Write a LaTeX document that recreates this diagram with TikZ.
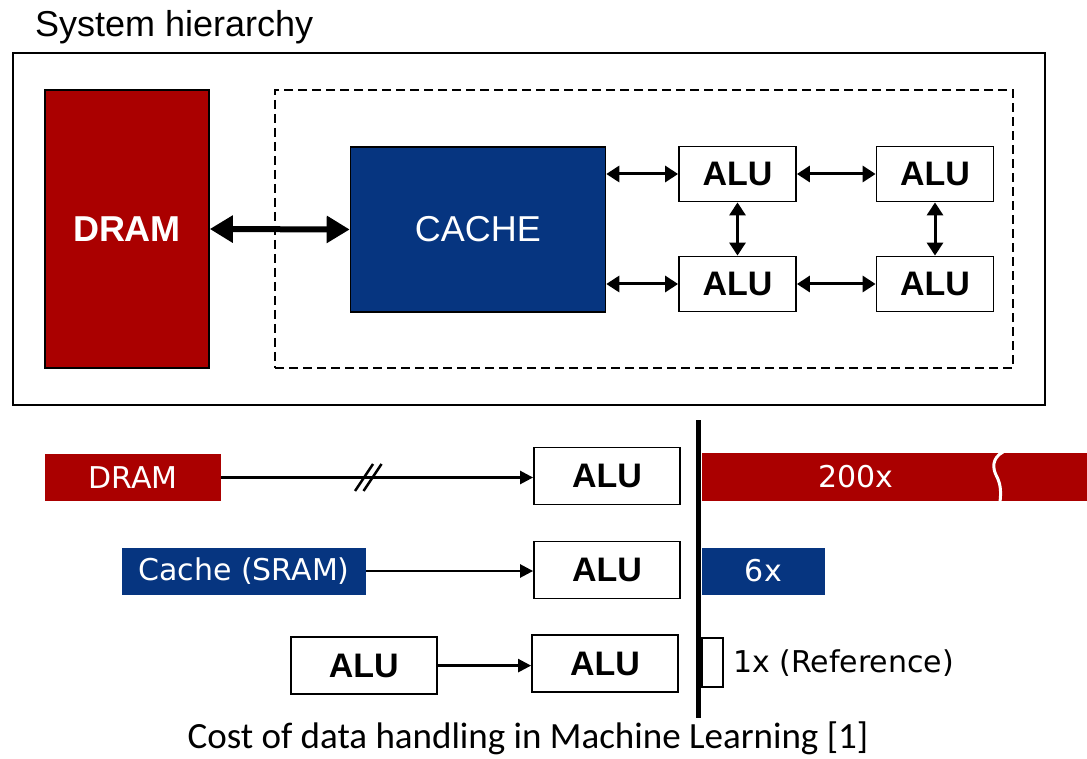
\documentclass[tikz,border=0pt]{standalone}
\usepackage{fontspec}
\setmainfont{Liberation Sans}
\newfontfamily\verd{DejaVu Sans}
\newfontfamily\cali{Carlito}
\usetikzlibrary{arrows.meta}
\definecolor{dred}{RGB}{170,0,0}
\definecolor{dblue}{RGB}{6,53,128}
\begin{document}
\begin{tikzpicture}[x=1pt,y=-1pt,
  lbl/.style={inner sep=0pt},
  alubox/.style={draw, line width=1.8pt, fill=white, inner sep=0pt, font=\fontsize{34}{34}\selectfont\bfseries},
  topbox/.style={draw, line width=1.6pt, inner sep=0pt},
  bar/.style={fill=#1, inner sep=0pt, text=white, font=\verd\fontsize{30}{30}\selectfont},
  dbl/.style={line width=3pt, {Triangle[length=13pt,width=16pt]}-{Triangle[length=13pt,width=16pt]}},
  big/.style={line width=6pt, {Triangle[length=23pt,width=26pt]}-{Triangle[length=23pt,width=26pt]}},
  one/.style={line width=2.5pt, -{Triangle[length=13pt,width=13pt]}},
]
\fill[white] (0,0) rectangle (1087,759);
\path[use as bounding box] (0,0) rectangle (1087,759);
% top part
\node[lbl, anchor=base west, font=\fontsize{36}{36}\selectfont] (title) at (35,37) {System hierarchy};
\node[topbox, minimum width=1032pt, minimum height=352pt] (sys) at (529,229) {};
\node[topbox, fill=dred, minimum width=164pt, minimum height=278pt, text=white, font=\fontsize{36}{36}\selectfont\bfseries] (dram) at (127,229) {DRAM};
\node[draw, dash pattern=on 9pt off 5pt, line width=1.6pt, minimum width=738pt, minimum height=278pt] (chip) at (644,229) {};
\node[topbox, fill=dblue, minimum width=255pt, minimum height=165pt, text=white, font=\fontsize{36}{36}\selectfont] (cache) at (478,229.5) {CACHE};
\node[alubox, minimum width=117pt, minimum height=55pt] (a1) at (737.5,174) {ALU};
\node[alubox, minimum width=117pt, minimum height=55pt] (a2) at (935,174) {ALU};
\node[alubox, minimum width=117pt, minimum height=55pt] (a3) at (737.5,284) {ALU};
\node[alubox, minimum width=117pt, minimum height=55pt] (a4) at (935,284) {ALU};
\draw[big] (dram.east) -- (cache.west);
\draw[dbl] (cache.east |- a1.west) -- (a1.west);
\draw[dbl] (cache.east |- a3.west) -- (a3.west);
\draw[dbl] (a1) -- (a2);
\draw[dbl] (a3) -- (a4);
\draw[dbl] (a1) -- (a3);
\draw[dbl] (a2) -- (a4);
% bottom part
\coordinate (axtop) at (698.5,420);
\coordinate (axbot) at (698.5,718);
\draw[line width=5.5pt] (axtop) -- (axbot);
\node[bar=dred, minimum width=176pt, minimum height=47.5pt] (dramb) at (133,477.5) {DRAM};
\node[alubox, minimum width=146pt, minimum height=57pt] (b1) at (607,476) {ALU};
\draw[one] (dramb.east) -- (b1.west |- dramb.east);
\draw[line width=2.5pt] (355,491) -- (373,464);
\draw[line width=2.5pt] (363.5,491) -- (381.5,464);
\node[bar=dred, minimum width=385.3pt, minimum height=47.5pt] (bar200) at (894.4,477) {};
\node[lbl, text=white, font=\verd\fontsize{30}{30}\selectfont] (t200) at (856,477) {200x};
\draw[white, line width=3pt] (1003,452) .. controls (992,458) and (992,468) .. (997,477) .. controls (1001,485) and (1001,493) .. (1000,502);
\node[bar=dblue, minimum width=244pt, minimum height=47pt] (cacheb) at (244,571) {Cache (SRAM)};
\node[alubox, minimum width=146pt, minimum height=57pt] (b2) at (607,570) {ALU};
\draw[one] (cacheb.east) -- (b2.west |- cacheb.east);
\node[bar=dblue, minimum width=123.3pt, minimum height=47pt] (bar6) at (763.4,571) {6x};
\node[alubox, minimum width=146pt, minimum height=57pt] (c1) at (363.7,665.6) {ALU};
\node[alubox, minimum width=146pt, minimum height=57pt] (c2) at (605,663.8) {ALU};
\draw[one] (c1.east) -- (c2.west |- c1.east);
\node[draw, line width=2pt, fill=white, minimum width=21pt, minimum height=49pt, inner sep=0pt] (bar1) at (712.5,662) {};
\node[lbl, anchor=west, font=\verd\fontsize{30}{30}\selectfont] (t1) at (733,663) {1x (Reference)};
\node[lbl, font=\cali\fontsize{37}{37}\selectfont] (cap) at (528,738.5) {Cost of data handling in Machine Learning [1]};
\end{tikzpicture}
\end{document}
